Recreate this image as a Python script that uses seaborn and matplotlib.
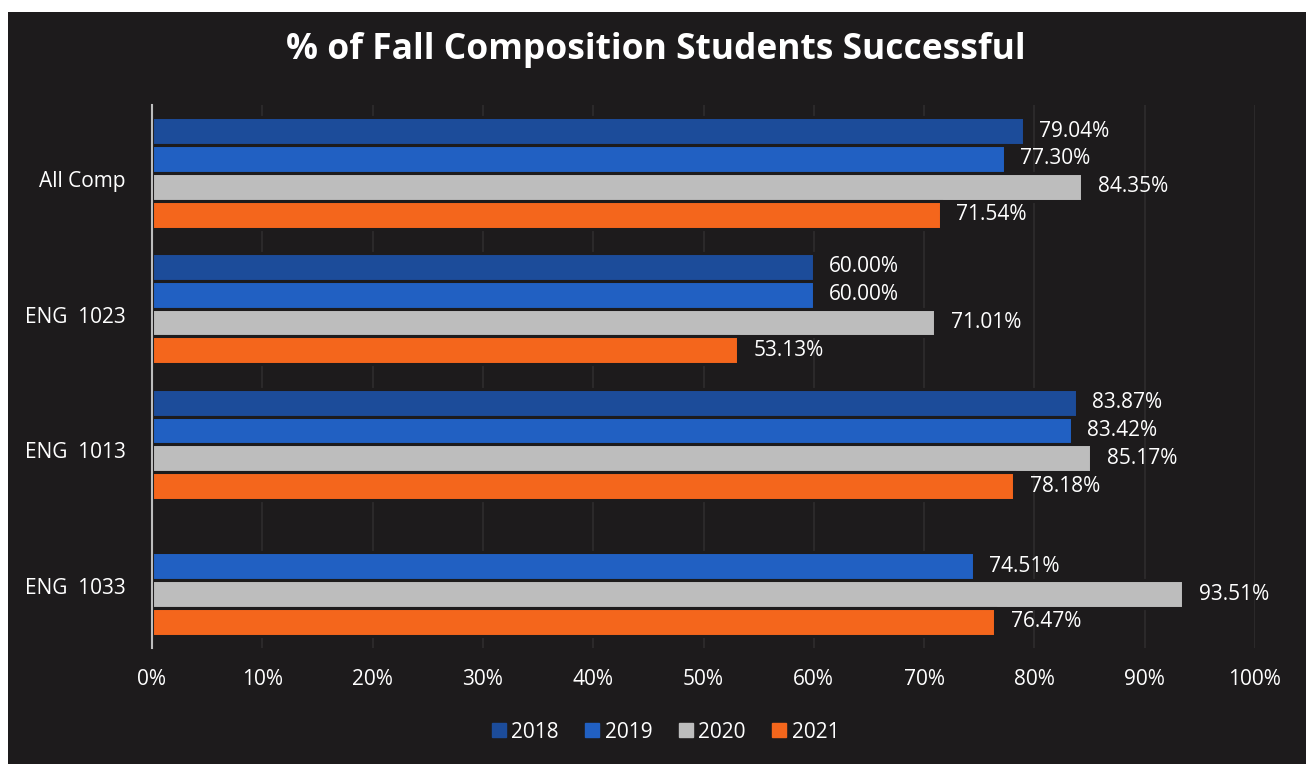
import numpy as np
import pandas as pd
import matplotlib
matplotlib.use("Agg")
import matplotlib.pyplot as plt
import matplotlib.transforms as mtransforms
from matplotlib.patches import Rectangle
from matplotlib.lines import Line2D
from matplotlib.ticker import FuncFormatter, MultipleLocator
import seaborn as sns

# Course categories, top to bottom
courses = ["All Comp", "ENG  1023", "ENG  1013", "ENG  1033"]
years = ["2018", "2019", "2020", "2021"]

# Percent of students successful per year (NaN = no section that year)
pct_2018 = [79.04, 60.00, 83.87, np.nan]
pct_2019 = [77.30, 60.00, 83.42, 74.51]
pct_2020 = [84.35, 71.01, 85.17, 93.51]
pct_2021 = [71.54, 53.13, 78.18, 76.47]

year_colors = ["#1c4c9a", "#2160c2", "#bdbdbd", "#f4661c"]
bg = "#1d1b1c"
fg = "#ffffff"

rows = []
for yr, vals in zip(years, [pct_2018, pct_2019, pct_2020, pct_2021]):
    for c, v in zip(courses, vals):
        rows.append({"course": c, "year": yr, "pct": v})
df = pd.DataFrame(rows)

sns.set_theme(style="white")
plt.rcParams["font.family"] = ["Open Sans", "DejaVu Sans"]

fig = plt.figure(figsize=(13.11, 7.74), dpi=100)
fig.patch.set_facecolor("white")
# dark chart panel behind everything
fig.patches.append(Rectangle((8 / 1311, 1 - 764 / 774), (1306 - 8) / 1311, (764 - 12) / 774,
                             transform=fig.transFigure, facecolor=bg, edgecolor="none", zorder=-10))

ax = fig.add_axes([152 / 1311, 1 - 648 / 774, (1255 - 152) / 1311, (648 - 105) / 774])
ax.set_facecolor(bg)
ax.patch.set_alpha(0)

sns.barplot(data=df, y="course", x="pct", hue="year", order=courses, hue_order=years,
            palette=year_colors, saturation=1, orient="h", width=0.82, dodge=True, ax=ax,
            edgecolor=bg, linewidth=2.2, legend=False, errorbar=None, zorder=3)

ax.set_xlim(0, 100)
ax.xaxis.set_major_locator(MultipleLocator(10))
ax.xaxis.set_major_formatter(FuncFormatter(lambda v, p: f"{v:.0f}%"))
ax.grid(axis="x", color="#2f2d2e", linewidth=1.2, zorder=0)
ax.set_axisbelow(True)

for s in ["top", "right", "bottom"]:
    ax.spines[s].set_visible(False)
ax.spines["left"].set_color("#bdbdbd")
ax.spines["left"].set_linewidth(1.5)
ax.spines["left"].set_zorder(5)

ax.tick_params(axis="x", colors=fg, labelsize=15, length=0, pad=15)
ax.tick_params(axis="y", colors=fg, labelsize=15, length=0, pad=19)
ax.set_xlabel("")
ax.set_ylabel("")

# category labels sit slightly below the group centre
shift = mtransforms.ScaledTranslation(0, -6 / 100, fig.dpi_scale_trans)
for lbl in ax.get_yticklabels():
    lbl.set_transform(lbl.get_transform() + shift)

# value labels at bar ends
for container in ax.containers:
    labels = [f"{v:.2f}%" if np.isfinite(v) else "" for v in container.datavalues]
    ax.bar_label(container, labels=labels, color=fg, fontsize=15, padding=11)

fig.text(0.5, 1 - 50 / 774, "% of Fall Composition Students Successful", ha="center", va="center",
         color=fg, fontsize=25.5, fontweight="bold")

handles = [Line2D([0], [0], marker="s", linestyle="none", markersize=10,
                  markerfacecolor=c, markeredgecolor=c) for c in year_colors]
fig.legend(handles, years, loc="center", bbox_to_anchor=(665 / 1311, 1 - 732 / 774), ncol=4,
           frameon=False, fontsize=15, labelcolor=fg, handletextpad=0.2, columnspacing=1.2,
           handlelength=0.8)

fig.savefig("out.png", dpi=100, facecolor=fig.get_facecolor())
